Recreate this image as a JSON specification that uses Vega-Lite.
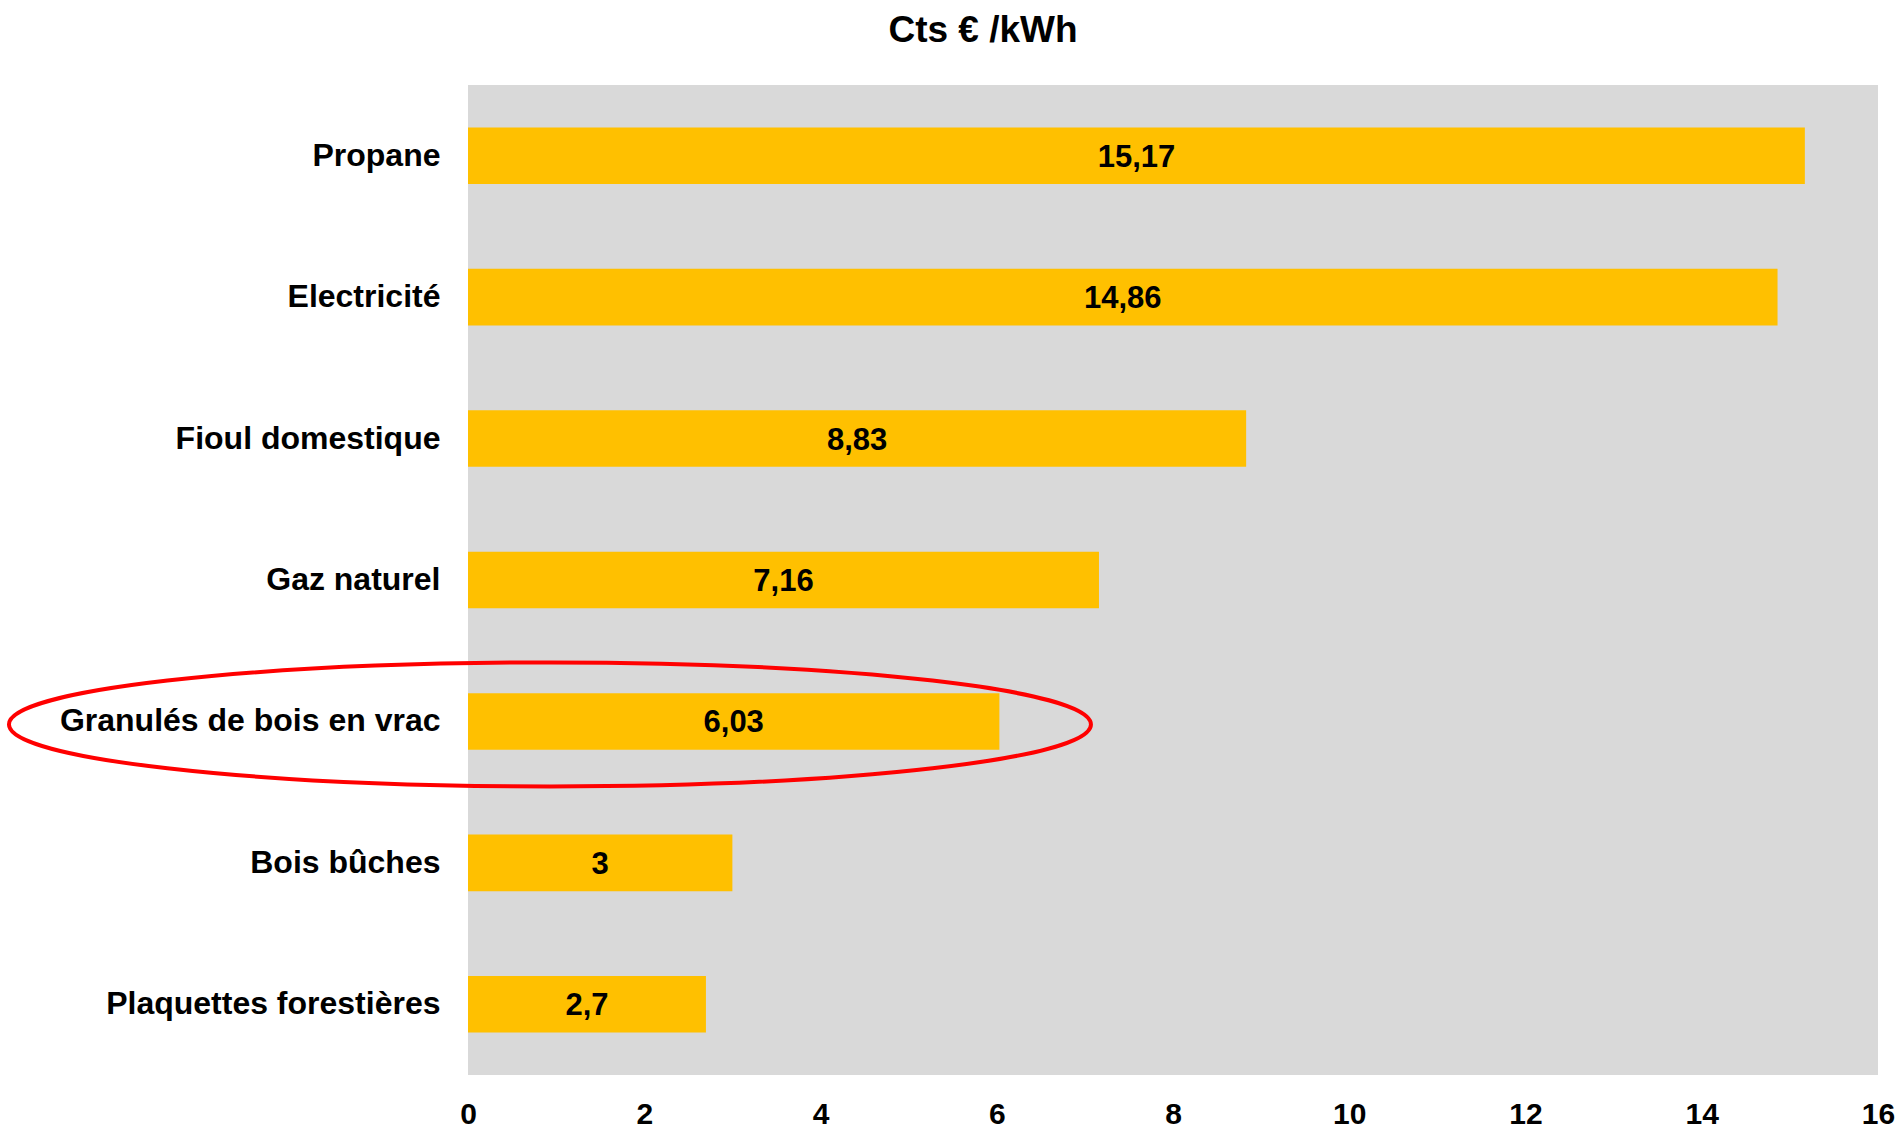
{
  "$schema": "https://vega.github.io/schema/vega-lite/v6.json",
  "autosize": {"type": "none"},
  "padding": {"left": 468, "top": 85, "right": 23, "bottom": 54},
  "width": 1410,
  "height": 990,
  "background": "white",
  "title": {
    "text": "Cts € /kWh",
    "font": "Liberation Sans",
    "fontSize": 37,
    "fontWeight": "bold",
    "color": "black",
    "anchor": "middle",
    "baseline": "alphabetic",
    "offset": 6,
    "dx": -190
  },
  "config": {
    "view": {"fill": "#D9D9D9", "stroke": null},
    "font": "Liberation Sans"
  },
  "resolve": {"scale": {"x": "independent"}},
  "layer": [
    {
      "data": {
        "values": [
          {"energie": "Propane", "prix": 15.17, "label": "15,17"},
          {"energie": "Electricité", "prix": 14.86, "label": "14,86"},
          {"energie": "Fioul domestique", "prix": 8.83, "label": "8,83"},
          {"energie": "Gaz naturel", "prix": 7.16, "label": "7,16"},
          {"energie": "Granulés de bois en vrac", "prix": 6.03, "label": "6,03"},
          {"energie": "Bois bûches", "prix": 3, "label": "3"},
          {"energie": "Plaquettes forestières", "prix": 2.7, "label": "2,7"}
        ]
      },
      "encoding": {
        "y": {
          "field": "energie",
          "type": "nominal",
          "sort": null,
          "scale": {"paddingInner": 0.6, "paddingOuter": 0.3},
          "axis": {
            "title": null,
            "domain": false,
            "ticks": false,
            "labelFont": "Liberation Sans",
            "labelFontSize": 32,
            "labelFontWeight": "bold",
            "labelColor": "black",
            "labelPadding": 28,
            "labelLimit": 600
          }
        }
      },
      "resolve": {"scale": {"x": "independent"}},
      "layer": [
        {
          "mark": {"type": "bar", "color": "#FFC000"},
          "encoding": {
            "x": {
              "field": "prix",
              "type": "quantitative",
              "scale": {"domain": [0, 16], "nice": false},
              "axis": {
                "title": null,
                "values": [0, 2, 4, 6, 8, 10, 12, 14, 16],
                "format": "d",
                "domain": false,
                "ticks": false,
                "grid": false,
                "labelFont": "Liberation Sans",
                "labelFontSize": 30,
                "labelFontWeight": "bold",
                "labelColor": "black",
                "labelPadding": 24,
                "labelFlush": false
              }
            }
          }
        },
        {
          "mark": {
            "type": "text",
            "font": "Liberation Sans",
            "fontSize": 31,
            "fontWeight": "bold",
            "color": "black",
            "align": "center",
            "baseline": "middle",
            "dy": 2
          },
          "encoding": {
            "x": {
              "field": "prix",
              "type": "quantitative",
              "scale": {"domain": [0, 32], "nice": false},
              "axis": null
            },
            "text": {"field": "label"}
          }
        }
      ]
    },
    {
      "data": {"values": [{"energie": "Granulés de bois en vrac", "centre": 0.93}]},
      "mark": {
        "type": "point",
        "shape": "M-1,0A1,0.1146,0,1,0,1,0A1,0.1146,0,1,0,-1,0Z",
        "size": 1170724,
        "filled": false,
        "stroke": "#FF0000",
        "strokeWidth": 4,
        "opacity": 1,
        "yOffset": 3
      },
      "encoding": {
        "x": {
          "field": "centre",
          "type": "quantitative",
          "scale": {"domain": [0, 16], "nice": false},
          "axis": null
        },
        "y": {"field": "energie", "type": "nominal", "sort": null}
      }
    }
  ]
}
